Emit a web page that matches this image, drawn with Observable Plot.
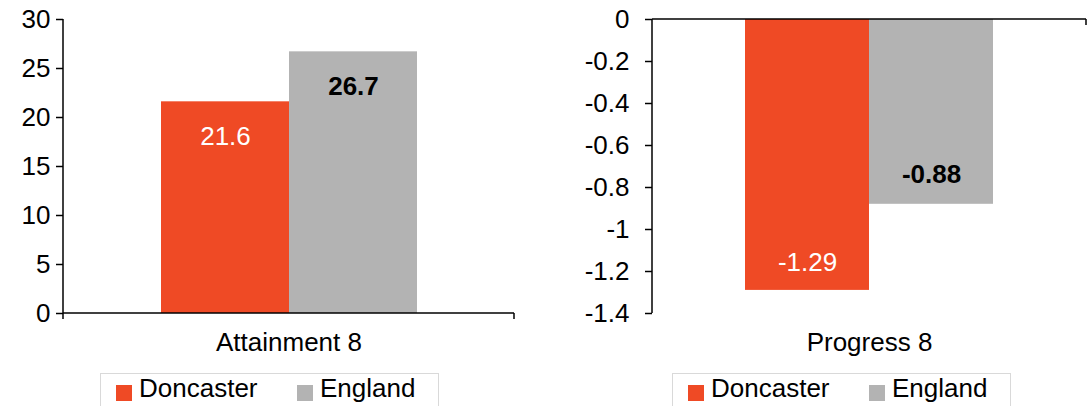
<!DOCTYPE html>
<html><head><meta charset="utf-8">
<script src="https://cdn.jsdelivr.net/npm/d3@7"></script>
<script src="https://cdn.jsdelivr.net/npm/@observablehq/plot@0.6"></script>
<style>
html,body{margin:0;padding:0;background:#fff;overflow:hidden;}
#wrap{position:relative;width:1091px;height:406px;font-family:Arial,"Liberation Sans",sans-serif;color:#000;}
.panel{position:absolute;top:0;}
.legend{position:absolute;top:373px;width:339px;height:40px;border:1px solid #d9d9d9;box-sizing:border-box;background:#fff;}
.sw{position:absolute;top:11px;width:16px;height:16px;}
.lt{position:absolute;top:0px;font-size:26px;line-height:29px;white-space:nowrap;}
</style>
</head><body>
<div id="wrap"></div>
<script>
// ---- data ----
const series = ["Doncaster", "England"];
const seriesColors = ["#EF4A25", "#B3B3B3"];
const panelNames = ["Attainment 8", "Progress 8"];
const attainmentValues = [21.6, 26.7];
const progressValues = [-1.29, -0.88];
const attainmentTicks = [0, 5, 10, 15, 20, 25, 30];
const progressTicks = [0, -0.2, -0.4, -0.6, -0.8, -1, -1.2, -1.4];
const attainmentLabels = ["21.6", "26.7"];
const progressLabels = ["-1.29", "-0.88"];

function axisLines(dims, scales) {
  const {width, height, marginLeft, marginRight, marginTop, marginBottom} = dims;
  const x0 = marginLeft, x1 = width - marginRight;
  const yTop = marginTop, yBot = height - marginBottom;
  const yz = scales.y(0);
  const g = d3.create("svg:g").attr("stroke", "#000").attr("stroke-width", 1.5).attr("fill", "none");
  g.append("line").attr("x1", x0).attr("x2", x0).attr("y1", yTop).attr("y2", Math.max(yBot, yz + 6));
  g.append("line").attr("x1", x0).attr("x2", x1).attr("y1", yz).attr("y2", yz);
  g.append("line").attr("x1", x1).attr("x2", x1).attr("y1", yz).attr("y2", yz + 6);
  return g.node();
}

function makePanel(cfg) {
  const data = series.map((s, i) => ({series: s, value: cfg.values[i], label: cfg.labels[i]}));
  return Plot.plot({
    width: cfg.width,
    height: 373,
    marginLeft: cfg.marginLeft,
    marginRight: cfg.marginRight,
    marginTop: 19,
    marginBottom: 60,
    style: {fontFamily: "Arial, 'Liberation Sans', sans-serif", fontSize: "26px", color: "#000", background: "transparent", overflow: "visible"},
    x: {type: "band", domain: series, range: cfg.xRange, padding: 0, axis: null},
    y: {domain: cfg.domain},
    color: {domain: series, range: seriesColors},
    marks: [
      Plot.barY(data, {x: "series", y: "value", fill: "series"}),
      Plot.axisY({ticks: cfg.ticks, label: null, tickSize: 7, tickPadding: cfg.tickPadding, tickFormat: d => String(d), fontSize: 26, strokeWidth: 1.5, stroke: "#000", fill: "#000"}),
      (index, scales, values, dims) => axisLines(dims, scales),
      Plot.text(data.filter(d => d.series === series[0]), {x: "series", y: "value", text: "label", dy: cfg.labelDy[0], fill: "#fff", fontSize: 26}),
      Plot.text(data.filter(d => d.series === series[1]), {x: "series", y: "value", text: "label", dy: cfg.labelDy[1], fill: "#000", fontWeight: "bold", fontSize: 26}),
      Plot.text([cfg.name], {frameAnchor: "bottom", dy: 37, fill: "#000", fontSize: 26})
    ]
  });
}

function makeLegend(left) {
  const lg = document.createElement("div");
  lg.className = "legend";
  lg.style.left = left + "px";
  const sx = [16, 197], tx = [39, 220];
  series.forEach((s, i) => {
    const sw = document.createElement("div");
    sw.className = "sw"; sw.style.left = (sx[i] - 1) + "px"; sw.style.background = seriesColors[i];
    const t = document.createElement("div");
    t.className = "lt"; t.style.left = (tx[i] - 1) + "px"; t.textContent = s;
    lg.appendChild(sw); lg.appendChild(t);
  });
  return lg;
}

const wrap = document.getElementById("wrap");
const left = makePanel({name: panelNames[0], values: attainmentValues, labels: attainmentLabels, ticks: attainmentTicks,
  domain: [0, 30], width: 545, marginLeft: 63, marginRight: 31, xRange: [160, 417], tickPadding: 6, labelDy: [35, 35]});
left.classList.add("panel"); left.style.left = "0px";
const right = makePanel({name: panelNames[1], values: progressValues, labels: progressLabels, ticks: progressTicks,
  domain: [-1.4, 0], width: 546, marginLeft: 107, marginRight: 5, xRange: [199, 448], tickPadding: 16, labelDy: [-28, -30]});
right.classList.add("panel"); right.style.left = "545px";
wrap.appendChild(left); wrap.appendChild(right);
wrap.appendChild(makeLegend(100));
wrap.appendChild(makeLegend(672));
</script>
</body></html>
